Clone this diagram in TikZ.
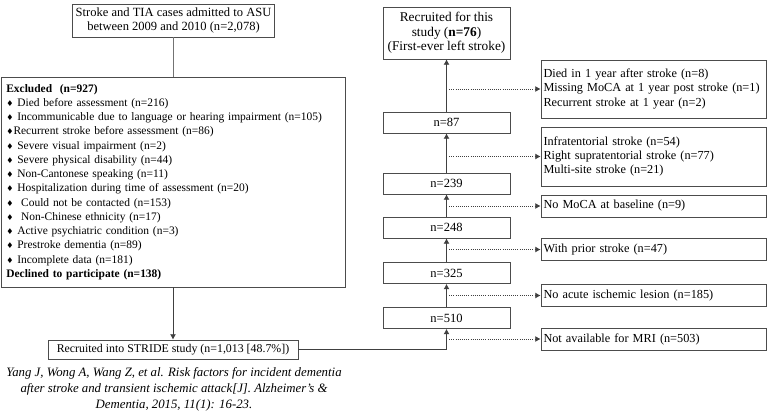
\documentclass[tikz,border=0pt]{standalone}
\usepackage{fontspec}
\setmainfont{Liberation Serif}
\newfontfamily\symfont{DejaVu Sans}
\usetikzlibrary{arrows.meta}
\newcommand{\dm}{{\symfont\fontsize{6}{6}\selectfont ♦}}
\tikzset{
    box/.style={draw=black!70, line width=0.6pt, inner sep=0pt, align=center,
        minimum width=95.25pt, minimum height=15.75pt, font=\fontsize{9.4}{10.6}\selectfont},
    sidebox/.style={box, align=left, text width=165pt, inner xsep=1.875pt,
        font=\fontsize{9.2}{10.8}\selectfont},
    link/.style={draw=black!55, line width=0.6pt},
    arr/.style={draw=black!75, line width=0.6pt, -{Latex[length=4pt,width=4.5pt]}},
    dotarr/.style={draw=black!75, line width=0.6pt, densely dotted, -{Latex[length=4pt,width=4.5pt]}}
}
\begin{document}
\begin{tikzpicture}[x=0.75pt,y=-0.75pt]
    \useasboundingbox (0,0) rectangle (767,415);
    % left branch
    \node[box, minimum width=152pt, minimum height=24.75pt] (cases) at (173.5,20.5)
        {Stroke and TIA cases admitted to ASU\\between 2009 and 2010 (n=2,078)};
    \node[box, align=left, text width=250pt, inner xsep=4pt, minimum height=157.5pt,
          font=\fontsize{8.6}{10.7}\selectfont] (excl) at (173,182)
        {\textbf{Excluded\ \ (n=927)}\\
         \dm\ Died before assessment (n=216)\\
         \dm\ Incommunicable due to language or hearing impairment (n=105)\\
         \dm Recurrent stroke before assessment (n=86)\\
         \dm\ Severe visual impairment (n=2)\\
         \dm\ Severe physical disability (n=44)\\
         \dm\ Non-Cantonese speaking (n=11)\\
         \dm\ Hospitalization during time of assessment (n=20)\\
         \dm\ \ Could not be contacted (n=153)\\
         \dm\ \ Non-Chinese ethnicity (n=17)\\
         \dm\ Active psychiatric condition (n=3)\\
         \dm\ Prestroke dementia (n=89)\\
         \dm\ Incomplete data (n=181)\\
         \textbf{Declined to participate (n=138)}};
    \node[box, minimum width=187.5pt, minimum height=14.25pt, font=\fontsize{8.9}{10.6}\selectfont] (stride) at (173,349.5)
        {Recruited into STRIDE study (n=1,013 [48.7\%])};
    \node[align=center, inner sep=0pt, font=\fontsize{9.6}{11.8}\selectfont\itshape] (cite) at (174,389.5)
        {Yang J, Wong A, Wang Z, et al. Risk factors for incident dementia\\
         after stroke and transient ischemic attack[J]. Alzheimer's \&\\
         Dementia, 2015, 11(1): 16-23.};
    % right column
    \node[box, minimum height=39pt, font=\fontsize{10}{11}\selectfont] (study) at (446.5,33)
        {Recruited for this\\study (\textbf{n=76})\\(First-ever left stroke)};
    \node[box] (n87) at (446.5,122.5) {n=87};
    \node[box] (n239) at (446.5,183.5) {n=239};
    \node[box] (n248) at (446.5,227.5) {n=248};
    \node[box] (n325) at (446.5,273) {n=325};
    \node[box] (n510) at (446.5,318) {n=510};
    % exclusions
    \node[sidebox, minimum height=43.5pt] (died) at (653.5,89)
        {Died in 1 year after stroke (n=8)\\\mbox{Missing MoCA at 1 year post stroke (n=1)}\\Recurrent stroke at 1 year (n=2)};
    \node[sidebox, minimum height=44.25pt] (site) at (653.5,156.5)
        {Infratentorial stroke (n=54)\\Right supratentorial stroke (n=77)\\Multi-site stroke (n=21)};
    \node[sidebox, minimum height=16.5pt] (nomoca) at (653.5,206) {No MoCA at baseline (n=9)};
    \node[sidebox, minimum height=16.5pt] (prior) at (653.5,249.5) {With prior stroke (n=47)};
    \node[sidebox, minimum height=16.5pt] (lesion) at (653.5,295.5) {No acute ischemic lesion (n=185)};
    \node[sidebox, minimum height=16.5pt] (mri) at (653.5,339) {Not available for MRI (n=503)};
    % connectors
    \draw[link] (cases.south) -- (cases.south |- excl.north);
    \draw[arr] (excl.south) -- (stride.north);
    \draw[arr] (stride.east) -| (n510.south);
    \draw[arr] (n510.north) -- (n325.south);
    \draw[arr] (n325.north) -- (n248.south);
    \draw[arr] (n248.north) -- (n239.south);
    \draw[arr] (n239.north) -- (n87.south);
    \draw[arr] (n87.north) -- (study.south);
    \draw[dotarr] ([xshift=2pt]n510.south |- mri.west) -- (mri.west);
    \draw[dotarr] ([xshift=2pt]n510.north |- lesion.west) -- (lesion.west);
    \draw[dotarr] ([xshift=2pt]n325.north |- prior.west) -- (prior.west);
    \draw[dotarr] ([xshift=2pt]n248.north |- nomoca.west) -- (nomoca.west);
    \draw[dotarr] ([xshift=2pt]n239.north |- site.west) -- (site.west);
    \draw[dotarr] ([xshift=2pt]n87.north |- died.west) -- (died.west);
\end{tikzpicture}
\end{document}
